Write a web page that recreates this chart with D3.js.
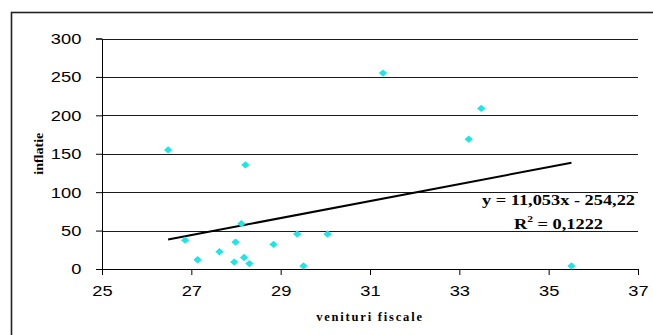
<!DOCTYPE html>
<html>
<head>
<meta charset="utf-8">
<script src="https://cdn.jsdelivr.net/npm/d3@7"></script>
<style>
  html, body { margin: 0; padding: 0; background: #fff; }
  svg { display: block; }
</style>
</head>
<body>
<svg id="chart" width="653" height="335"></svg>
<script>
// Fiscal revenue vs inflation, with a linear trend line
const venituri = [26.48, 28.21, 31.29, 33.21, 33.49, 35.51, 26.86, 27.14, 27.63,
                  27.96, 27.99, 28.12, 28.18, 28.30, 28.84, 29.37, 29.51, 30.05];
const inflatie = [155, 135.5, 255, 169, 209, 4, 37.5, 12, 22.5,
                  9, 35, 59, 15, 7, 32, 45.5, 4, 45.5];
const xTicks = [25, 27, 29, 31, 33, 35, 37];
const yTicks = [0, 50, 100, 150, 200, 250, 300];
const slope = 11.053;
const intercept = -254.22;
const rSquared = "0,1222";
const equationText = "y = 11,053x - 254,22";

const svg = d3.select("#chart");

const x = d3.scaleLinear().domain([25, 37]).range([102, 638]);
const y = d3.scaleLinear().domain([0, 300]).range([269, 38.5]);

// outer chart frame (right and bottom edges fall outside the view)
svg.append("rect")
  .attr("x", 11.5).attr("y", 12.5)
  .attr("width", 700).attr("height", 400)
  .attr("fill", "none").attr("stroke", "#222").attr("stroke-width", 1.6);

// horizontal gridlines
svg.append("g")
  .selectAll("line")
  .data(yTicks.filter(d => d > 0))
  .join("line")
  .attr("x1", x(25)).attr("x2", x(37))
  .attr("y1", d => Math.round(y(d)) + 0.5).attr("y2", d => Math.round(y(d)) + 0.5)
  .attr("stroke", "#1a1a1a").attr("stroke-width", 1.1);

const tickFont = "'Liberation Sans', Arial, sans-serif";

// y axis
const gy = svg.append("g")
  .attr("transform", `translate(${x(25)},0)`)
  .call(d3.axisLeft(y).tickValues(yTicks).tickSize(6).tickPadding(9));
gy.select(".domain").attr("stroke", "#000");
gy.selectAll(".tick line").attr("stroke", "#000");
gy.selectAll(".tick text")
  .attr("fill", "#000")
  .style("font-family", tickFont)
  .style("font-size", "15.5px")
  .attr("transform", "scale(1.18,1) translate(-2.5,0)");

// x axis
const gx = svg.append("g")
  .attr("transform", `translate(0,${y(0)})`)
  .call(d3.axisBottom(x).tickValues(xTicks).tickSize(6).tickPadding(10));
gx.select(".domain").attr("stroke", "#000");
gx.selectAll(".tick line").attr("stroke", "#000");
gx.selectAll(".tick text")
  .attr("fill", "#000")
  .style("font-family", tickFont)
  .style("font-size", "15.5px")
  .attr("transform", "scale(1.18,1)");

// trend line over the range of the data
const xMin = d3.min(venituri), xMax = d3.max(venituri);
svg.append("line")
  .attr("x1", x(xMin)).attr("y1", y(slope * xMin + intercept))
  .attr("x2", x(xMax)).attr("y2", y(slope * xMax + intercept))
  .attr("stroke", "#000").attr("stroke-width", 2);

// data points as diamonds (squares turned 45 degrees)
const marker = d3.symbol().type(d3.symbolSquare).size(30);
svg.append("g")
  .selectAll("path")
  .data(venituri.map((v, i) => [v, inflatie[i]]))
  .join("path")
  .attr("d", marker)
  .attr("transform", d => `translate(${x(d[0])},${y(d[1])}) scale(1.08,0.95) rotate(45)`)
  .attr("fill", "#1fe6e6");

const serif = "'Liberation Serif', 'Times New Roman', serif";

// regression equation
svg.append("text")
  .attr("x", 635).attr("y", 205)
  .attr("text-anchor", "end")
  .attr("textLength", 153).attr("lengthAdjust", "spacingAndGlyphs")
  .style("font-family", serif).style("font-weight", "bold").style("font-size", "14.5px")
  .text(equationText);

const r2 = svg.append("text")
  .attr("x", 603).attr("y", 229)
  .attr("text-anchor", "end")
  .attr("textLength", 89).attr("lengthAdjust", "spacingAndGlyphs")
  .style("font-family", serif).style("font-weight", "bold").style("font-size", "14.5px");
r2.append("tspan").text("R");
r2.append("tspan").attr("dy", -7).style("font-size", "9px").text("2");
r2.append("tspan").attr("dy", 7).text(" = " + rSquared);

// axis titles
svg.append("text")
  .attr("transform", `translate(43,${(y(0) + y(300)) / 2}) rotate(-90)`)
  .attr("text-anchor", "middle")
  .style("font-family", serif).style("font-weight", "bold").style("font-size", "13.5px")
  .attr("textLength", 42).attr("lengthAdjust", "spacingAndGlyphs")
  .text("inflatie");

svg.append("text")
  .attr("x", (x(25) + x(37)) / 2).attr("y", 321)
  .attr("text-anchor", "middle")
  .style("font-family", serif).style("font-weight", "bold").style("font-size", "12.5px")
  .style("letter-spacing", "1.8px")
  .text("venituri fiscale");
</script>
</body>
</html>
